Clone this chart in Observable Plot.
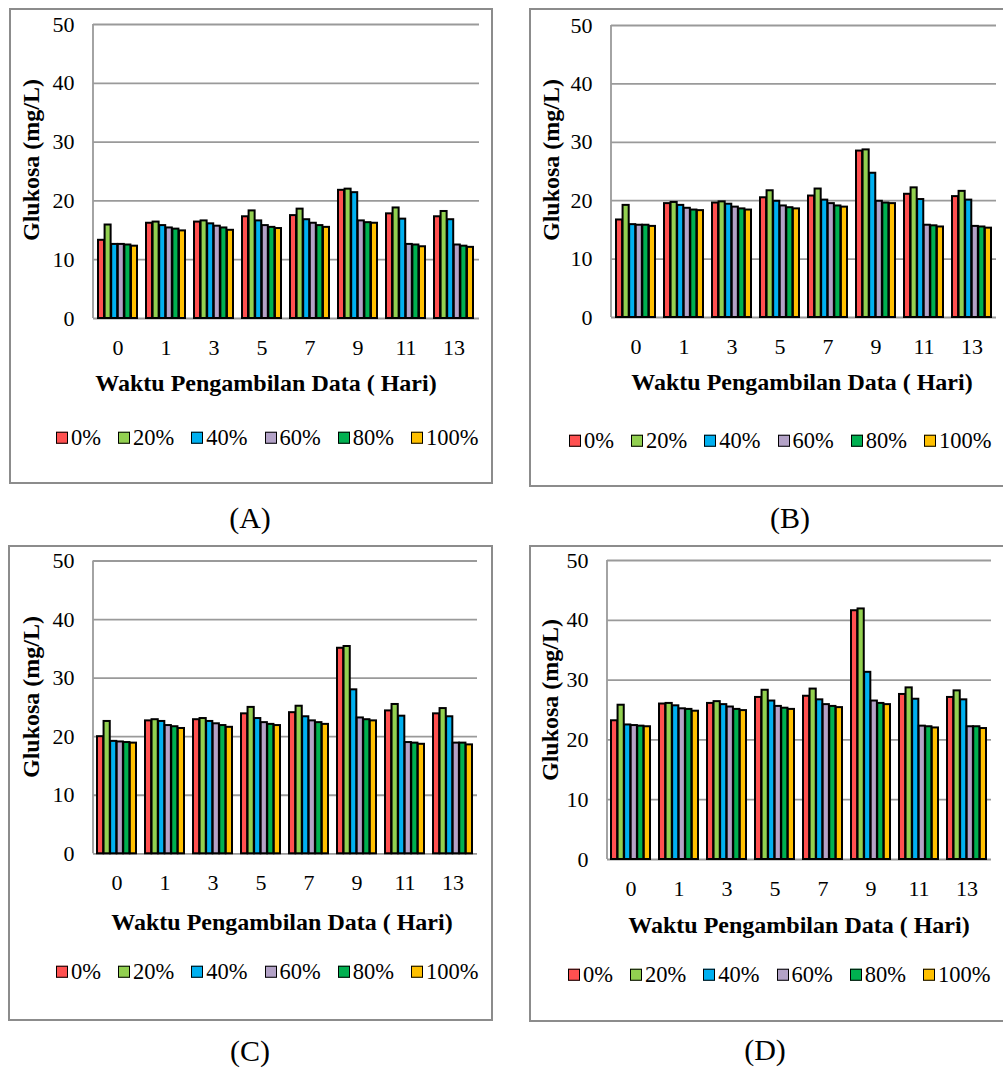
<!DOCTYPE html>
<html><head><meta charset="utf-8">
<script src="https://cdn.jsdelivr.net/npm/d3@7"></script>
<script src="https://cdn.jsdelivr.net/npm/@observablehq/plot@0.6"></script>
<style>
body{margin:0;width:1003px;height:1068px;position:relative;background:#fff;font-family:'Liberation Serif','DejaVu Serif',serif;overflow:hidden;color:#000}
.frame{position:absolute;border:2px solid #8c8c8c;box-sizing:border-box}
.chart{position:absolute}
.chart text{font-family:'Liberation Serif','DejaVu Serif',serif;fill:#000}
.ylab{position:absolute;font-weight:bold;font-size:24px;transform:translate(-50%,-50%) rotate(-90deg);white-space:nowrap;line-height:1}
.xlab{position:absolute;font-weight:bold;font-size:24px;transform:translate(-50%,-50%);white-space:nowrap;line-height:1}
.legend{position:absolute;display:flex;align-items:center;font-size:22.5px;transform:translateY(-50%);white-space:nowrap;line-height:1}
.legend .item{display:flex;align-items:center;margin-right:17px}
.swatch{width:10px;height:10px;border:1.6px solid #000;margin-right:3px}
.cap{position:absolute;font-size:30px;transform:translate(-50%,-50%);line-height:1}
</style>
</head><body>
<script>
const days = ["0","1","3","5","7","9","11","13"];
const series = ["0%","20%","40%","60%","80%","100%"];
const colors = ["#FF5050","#92D050","#00B0F0","#B3A2C7","#00B050","#FFC000"];
const yTicks = [0,10,20,30,40,50];
const yLabel = "Glukosa (mg/L)";
const xLabel = "Waktu Pengambilan Data ( Hari)";
const captions = ["(A)","(B)","(C)","(D)"];

// rows = days, columns = series (0%,20%,40%,60%,80%,100%)
const panelA = [
  [13.3,15.9,12.6,12.6,12.5,12.3],
  [16.2,16.4,15.8,15.4,15.2,14.9],
  [16.4,16.6,16.1,15.7,15.4,15.0],
  [17.3,18.3,16.6,15.8,15.5,15.3],
  [17.5,18.6,16.8,16.2,15.8,15.5],
  [21.8,22.0,21.4,16.6,16.3,16.2],
  [17.8,18.8,16.9,12.6,12.5,12.2],
  [17.3,18.2,16.8,12.5,12.3,12.1]
];
const panelB = [
  [16.7,19.2,15.9,15.8,15.8,15.6],
  [19.5,19.7,19.2,18.7,18.4,18.3],
  [19.6,19.8,19.4,18.9,18.6,18.4],
  [20.5,21.7,19.9,19.1,18.8,18.6],
  [20.8,22.0,20.1,19.5,19.1,18.9],
  [28.5,28.7,24.7,19.9,19.6,19.5],
  [21.1,22.2,20.2,15.8,15.7,15.5],
  [20.7,21.6,20.1,15.6,15.5,15.3]
];
const panelC = [
  [20.0,22.6,19.2,19.1,19.0,18.9],
  [22.7,22.9,22.6,21.9,21.7,21.4],
  [22.9,23.1,22.6,22.2,21.9,21.6],
  [23.9,25.0,23.1,22.4,22.1,21.9],
  [24.1,25.2,23.4,22.7,22.4,22.1],
  [35.1,35.4,28.0,23.2,22.9,22.7],
  [24.4,25.5,23.5,19.0,18.9,18.7],
  [23.9,24.8,23.4,18.9,18.9,18.6]
];
const panelD = [
  [23.2,25.8,22.5,22.4,22.3,22.2],
  [26.0,26.1,25.7,25.2,25.1,24.8],
  [26.1,26.4,25.9,25.5,25.1,24.9],
  [27.1,28.3,26.5,25.6,25.3,25.1],
  [27.3,28.5,26.7,25.9,25.6,25.4],
  [41.6,41.9,31.3,26.5,26.1,25.9],
  [27.6,28.7,26.8,22.3,22.2,22.0],
  [27.1,28.2,26.7,22.2,22.2,21.9]
];

const layouts = [
  {data: panelA, frame:[9,8,484,476], svg:[0,0,493,380], m:[24,14,62,93], xl:[266,383], yl:[31,160], lg:[56,438], cap:[250,518]},
  {data: panelB, frame:[529,8,490,479], svg:[520,0,483,380], m:[25,7,63,91], xl:[802,382], yl:[551,160], lg:[569,441], cap:[790,518]},
  {data: panelC, frame:[8,545,485,476], svg:[0,537,493,380], m:[23.5,16,63.7,93], xl:[282,922], yl:[31,697], lg:[56,972], cap:[250,1051]},
  {data: panelD, frame:[529,545,490,477], svg:[520,537,483,380], m:[23,12,58,87], xl:[799,925], yl:[550,700], lg:[568,975], cap:[765,1050]}
];

function el(tag, cls, css, text){
  const e = document.createElement(tag);
  if (cls) e.className = cls;
  Object.assign(e.style, css || {});
  if (text != null) e.textContent = text;
  document.body.appendChild(e);
  return e;
}

layouts.forEach((L, p) => {
  const [fx, fy, fw, fh] = L.frame;
  el("div", "frame", {left: fx+"px", top: fy+"px", width: fw+"px", height: fh+"px"});

  const rows = [];
  L.data.forEach((vals, di) => vals.forEach((v, si) => rows.push({day: days[di], series: series[si], value: v})));

  const [sx, sy, sw, sh] = L.svg;
  const [mt, mr, mb, ml] = L.m;
  const innerW = sw - ml - mr;
  const padIn = 0.18, padOut = 0.09;
  const step = innerW / (days.length - padIn + 2 * padOut);
  const bw = step * (1 - padIn);
  const sub = bw / series.length;

  const plot = Plot.plot({
    width: sw, height: sh,
    marginTop: mt, marginRight: mr, marginBottom: mb, marginLeft: ml,
    style: {background: "transparent", fontFamily: "'Liberation Serif','DejaVu Serif',serif", fontSize: "22px", color: "#000", overflow: "visible"},
    x: {type: "band", domain: days, paddingInner: padIn, paddingOuter: padOut, tickSize: 0, tickPadding: 21, label: null},
    y: {domain: [0, 50], ticks: 5, tickSize: 0, tickPadding: 19, label: null},
    marks: [
      Plot.ruleY(yTicks, {stroke: "#9a9a9a", strokeWidth: 1.8}),
      ...series.map((s, i) => Plot.barY(rows.filter(d => d.series === s), {
        x: "day", y: "value", fill: colors[i], stroke: "#000", strokeWidth: 2,
        insetLeft: i * sub, insetRight: (series.length - 1 - i) * sub
      }))
    ]
  });
  plot.classList.add("chart");
  plot.style.left = sx + "px";
  plot.style.top = sy + "px";
  plot.style.position = "absolute";
  document.body.appendChild(plot);
  // y-axis line along the left edge of the plot area
  const xr = plot.scale("x").range, yr = plot.scale("y").range;
  d3.select(plot).append("line")
    .attr("x1", xr[0]).attr("x2", xr[0])
    .attr("y1", yr[0]).attr("y2", yr[1])
    .attr("stroke", "#9a9a9a").attr("stroke-width", 1.8);

  el("div", "ylab", {left: L.yl[0]+"px", top: L.yl[1]+"px"}, yLabel);
  el("div", "xlab", {left: L.xl[0]+"px", top: L.xl[1]+"px"}, xLabel);

  const lg = el("div", "legend", {left: L.lg[0]+"px", top: L.lg[1]+"px"});
  series.forEach((s, i) => {
    const it = document.createElement("div"); it.className = "item";
    const sw_ = document.createElement("div"); sw_.className = "swatch"; sw_.style.background = colors[i];
    const tx = document.createElement("span"); tx.textContent = s;
    it.appendChild(sw_); it.appendChild(tx); lg.appendChild(it);
  });

  el("div", "cap", {left: L.cap[0]+"px", top: L.cap[1]+"px"}, captions[p]);
});
</script>
</body></html>
